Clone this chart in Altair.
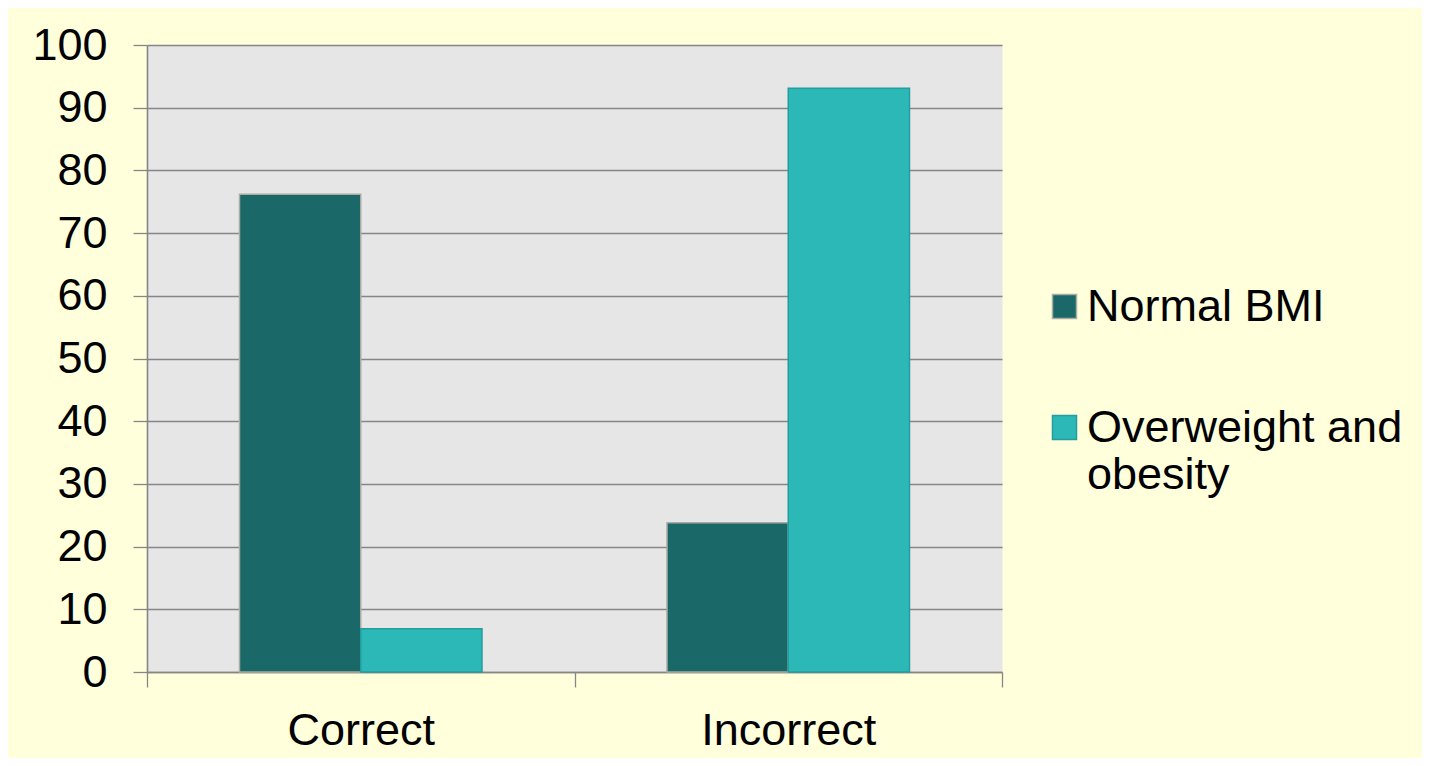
import altair as alt
import pandas as pd

categories = ["Correct", "Incorrect"]
series = ["Normal BMI", "Overweight and obesity"]
normal_bmi = [76.2, 23.8]
overweight = [6.9, 93.1]
y_ticks = [0, 10, 20, 30, 40, 50, 60, 70, 80, 90, 100]

rows = []
for i, c in enumerate(categories):
    rows.append({"answer": c, "group": series[0], "value": normal_bmi[i]})
    rows.append({"answer": c, "group": series[1], "value": overweight[i]})
df = pd.DataFrame(rows)

FONT = "Liberation Sans"
FS = 45
GRAY = "#868686"
fill_scale = alt.Scale(domain=series, range=["#1b6868", "#2db8b8"])
stroke_scale = alt.Scale(domain=series, range=["#aaaba2", "#239d9d"])

legend = alt.Legend(
    title=None, orient="none", legendX=895, legendY=239,
    symbolType="square", symbolSize=576, symbolStrokeWidth=1.5,
    symbolOpacity=1,
    labelFont=FONT, labelFontSize=FS, labelColor="black", labelLimit=500,
    labelOffset=0, rowPadding=75, padding=0,
    labelExpr="datum.label == 'Overweight and obesity' ? ['Overweight and', 'obesity'] : datum.label",
)

bars = alt.Chart(df).mark_bar(strokeWidth=1.5, opacity=1).encode(
    x=alt.X("answer:N", sort=categories, title=None,
            scale=alt.Scale(paddingInner=0, paddingOuter=0),
            axis=alt.Axis(labelAngle=0, labelFontSize=FS, labelFont=FONT, labelColor="black",
                          tickBand="extent", tickSize=15, tickColor=GRAY, tickWidth=1.3,
                          domainColor=GRAY, domainWidth=1.6,
                          labelPadding=21, grid=False)),
    xOffset=alt.XOffset("group:N", sort=series,
                        scale=alt.Scale(paddingInner=0, paddingOuter=0.763)),
    y=alt.Y("value:Q", scale=alt.Scale(domain=[0, 100], nice=False), title=None,
            axis=alt.Axis(values=y_ticks, labelFontSize=FS, labelFont=FONT, labelColor="black",
                          tickSize=14, tickColor=GRAY, tickWidth=1.3,
                          domainColor=GRAY, domainWidth=1.6, labelPadding=26,
                          grid=True, gridColor=GRAY, gridWidth=1.6, gridOpacity=1)),
    fill=alt.Fill("group:N", scale=fill_scale, sort=series, legend=legend),
    stroke=alt.Stroke("group:N", scale=stroke_scale, sort=series, legend=legend),
)

chart = bars.properties(
    width=855, height=627,
    autosize="none",
    padding={"left": 139, "top": 37, "right": 420, "bottom": 86},
    background="#ffffdc",
).configure_view(fill="#e6e6e6", stroke="transparent")

chart.save("out.html", embed_options={"renderer": "svg", "actions": False})
